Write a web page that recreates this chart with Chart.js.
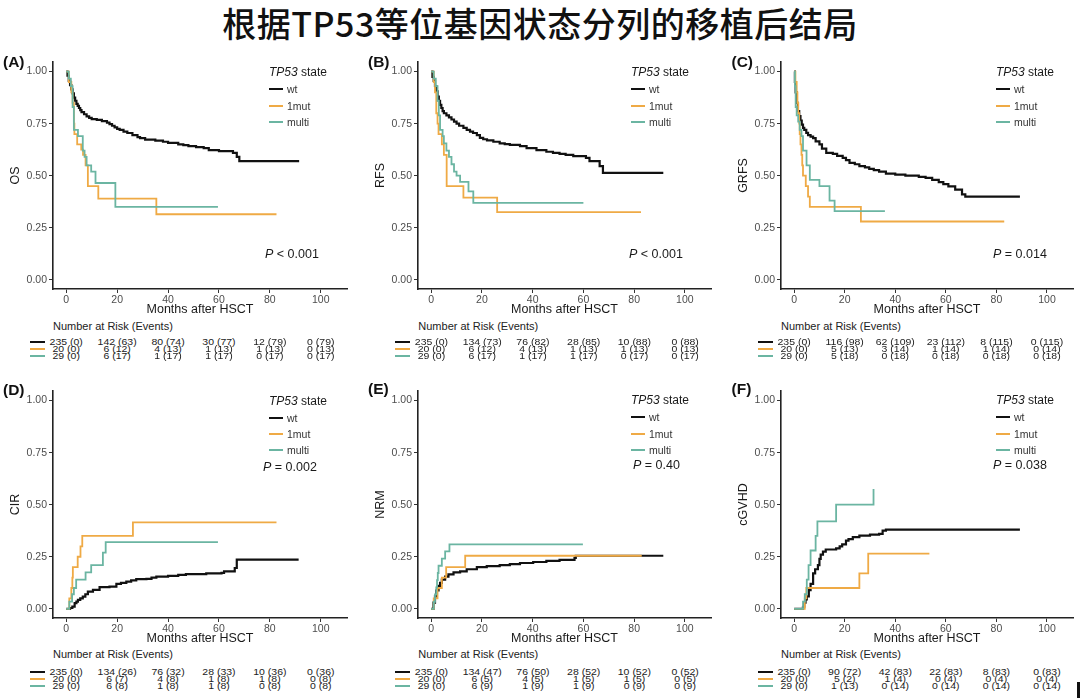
<!DOCTYPE html>
<html><head><meta charset="utf-8">
<script src="https://cdn.jsdelivr.net/npm/chart.js@4.4.1/dist/chart.umd.min.js"></script>
<style>
body{margin:0;width:1080px;height:698px;background:#fff;position:relative;overflow:hidden;font-family:"Liberation Sans",Arial,Helvetica,sans-serif;}
.t{position:absolute;white-space:nowrap;line-height:1.15;}
canvas{position:absolute;}
.sw{position:absolute;height:2px;}
#title{position:absolute;left:0;width:1080px;top:22px;transform:translateY(-50%);text-align:center;font-family:"Noto Sans CJK SC","Noto Sans CJK JP",sans-serif;font-size:34px;font-weight:500;color:#111;letter-spacing:0.5px;white-space:nowrap;}
</style></head>
<body>
<div id="title">根据TP53等位基因状态分列的移植后结局</div>
<script>
// ---------- axis ticks / labels ----------
const xTicks = [0,20,40,60,80,100];
const yTicks = [0,0.25,0.5,0.75,1];
const yTickLabels = ['0.00','0.25','0.50','0.75','1.00'];
const groups = ['wt','1mut','multi'];
const panelLetters = ['(A)','(B)','(C)','(D)','(E)','(F)'];
const yTitles = ['OS','RFS','GRFS','CIR','NRM','cGVHD'];
const pValues = [' < 0.001',' < 0.001',' = 0.014',' = 0.002',' = 0.40',' = 0.038'];

// ---------- (A) OS ----------
const osWtT = [0,0.5,1,1.5,2,2.5,3,3.5,4,4.5,5,5.5,6,7,8,9,10,12,14,16,17,18,19,20,21,22.5,24,26,28,29,31,35,38,40,44,46,48,51,54,56,60,65.5,67,68,91.5];
const osWtS = [1,0.98,0.955,0.935,0.915,0.895,0.875,0.86,0.845,0.835,0.825,0.815,0.805,0.795,0.785,0.778,0.772,0.768,0.762,0.755,0.748,0.74,0.732,0.725,0.72,0.712,0.705,0.695,0.685,0.68,0.673,0.668,0.663,0.658,0.65,0.647,0.642,0.637,0.632,0.623,0.618,0.61,0.59,0.57,0.57];
const osMutT = [0,1,2,2.5,3,3.2,4.3,5.9,6.6,7.6,8.5,12.6,35.4,82.6];
const osMutS = [1,0.95,0.9,0.85,0.75,0.7,0.65,0.625,0.6,0.55,0.45,0.39,0.315,0.315];
const osMulT = [0,1,1.8,2.5,3,4.6,6.5,7.2,8,9.8,11.5,19.3,59.6];
const osMulS = [1,0.966,0.93,0.83,0.72,0.69,0.62,0.59,0.55,0.52,0.465,0.35,0.35];

// ---------- (B) RFS ----------
const rfsWtT = [0,0.5,1,1.5,2,2.5,3,3.5,4,4.5,5,6,7,8,9,10,11,12.7,14,15.3,16.5,18,19.2,20.5,22,24.5,27,29,31,35,37.6,41.5,45.4,48,50.6,53,56,61,62.4,66.4,67.7,91.5];
const rfsWtS = [1,0.975,0.955,0.93,0.905,0.88,0.86,0.84,0.825,0.81,0.8,0.79,0.78,0.77,0.76,0.75,0.74,0.73,0.72,0.712,0.705,0.695,0.682,0.675,0.67,0.663,0.655,0.652,0.648,0.642,0.632,0.623,0.615,0.61,0.605,0.6,0.594,0.586,0.57,0.546,0.514,0.514];
const rfsMutT = [0,1,1.5,2,2.5,2.9,4.2,5,6.1,12.7,26,82.7];
const rfsMutS = [1,0.95,0.9,0.8,0.75,0.7,0.65,0.6,0.45,0.395,0.325,0.325];
const rfsMulT = [0,1,1.8,2.5,3,3.5,4.5,5,6,7,8,9,10,11.4,14.7,16.6,60];
const rfsMulS = [1,0.966,0.93,0.86,0.79,0.72,0.69,0.655,0.62,0.59,0.555,0.52,0.5,0.47,0.425,0.37,0.37];

// ---------- (C) GRFS ----------
const grfsWtT = [0,0.3,0.6,1,1.5,2,2.5,3,3.5,4,4.8,5.5,6.5,7.5,8.5,10,11,12.7,15.3,17,19.2,20.5,21.9,24,25.8,28,29.7,31.5,33.6,36.3,40,44,49.3,52,54.6,57.2,59,61,63.7,66.4,67.7,89.3];
const grfsWtS = [1,0.95,0.9,0.85,0.81,0.786,0.765,0.745,0.73,0.72,0.706,0.695,0.688,0.68,0.665,0.65,0.63,0.61,0.605,0.595,0.586,0.575,0.562,0.555,0.546,0.54,0.533,0.527,0.52,0.51,0.505,0.5,0.494,0.49,0.48,0.469,0.46,0.449,0.433,0.41,0.4,0.4];
const grfsMutT = [0,0.5,1,1.3,1.6,2,2.2,2.5,2.9,3.2,3.5,4.6,5.5,6.2,26.4,83.1];
const grfsMutS = [1,0.95,0.9,0.85,0.8,0.75,0.7,0.65,0.6,0.55,0.5,0.45,0.4,0.35,0.28,0.28];
const grfsMulT = [0,0.3,0.6,1,1.6,2.2,2.9,3.5,4.9,6.2,10,14,16,35.9];
const grfsMulS = [1,0.93,0.83,0.79,0.76,0.72,0.69,0.62,0.55,0.48,0.45,0.38,0.33,0.33];

// ---------- (D) CIR ----------
const cirWtT = [0,1.5,2.4,3.3,4,4.6,5.5,6.5,7.5,8.5,10.5,13.1,17,19.7,21.5,23.6,25.5,27.5,31.5,33.5,35.4,40,44,47,55,61,62,66.2,67,91.3];
const cirWtS = [0,0.004,0.011,0.027,0.035,0.043,0.05,0.059,0.07,0.083,0.091,0.104,0.107,0.12,0.125,0.131,0.137,0.143,0.144,0.15,0.155,0.158,0.163,0.167,0.17,0.173,0.18,0.196,0.236,0.236];
const cirMutT = [0,1.2,2,2.4,2.6,4.5,5.6,6.3,26.2,82.6];
const cirMutS = [0,0.05,0.1,0.15,0.2,0.25,0.3,0.35,0.415,0.415];
const cirMulT = [0,1.2,2.3,3,3.9,7.6,9.8,14.4,15.5,59.6];
const cirMulS = [0,0.035,0.07,0.1,0.14,0.175,0.21,0.27,0.32,0.32];

// ---------- (E) NRM ----------
const nrmWtT = [0,0.9,1.5,2,2.9,3.5,4.2,5.5,6.8,8.8,11.4,14,18,21.9,27,31,35,40.2,45.4,50.6,56.5,57,91.5];
const nrmWtS = [0,0.03,0.06,0.088,0.11,0.125,0.14,0.155,0.165,0.175,0.18,0.19,0.2,0.205,0.21,0.215,0.22,0.225,0.23,0.235,0.245,0.255,0.255];
const nrmMutT = [0,1,2.5,4.2,5.9,13.4,83];
const nrmMutS = [0,0.05,0.1,0.15,0.2,0.255,0.255];
const nrmMulT = [0,1,1.5,2,2.3,2.6,2.9,4.2,5.5,7.2,59.8];
const nrmMulS = [0,0.034,0.069,0.103,0.138,0.172,0.207,0.241,0.276,0.31,0.31];

// ---------- (F) cGVHD ----------
const cgWtT = [0,3.5,4,4.5,5,5.8,6.5,7.5,8.3,9.4,10,10.5,11.4,12.5,16.6,18,19,20.5,21.5,23.2,25.8,30,33.6,35,36.3,89.3];
const cgWtS = [0,0.01,0.03,0.045,0.06,0.09,0.12,0.17,0.19,0.21,0.24,0.26,0.275,0.285,0.29,0.3,0.31,0.328,0.335,0.344,0.352,0.356,0.36,0.376,0.38,0.38];
const cgMutT = [0,4.2,4.8,25.8,29.3,53.5];
const cgMutS = [0,0.05,0.1,0.17,0.265,0.265];
const cgMulT = [0,3.5,4.2,5,5.7,6.5,8.5,9.2,16.6,31.4];
const cgMulS = [0,0.035,0.07,0.14,0.21,0.28,0.35,0.42,0.5,0.575];

// ---------- Number at risk (events) ----------
const riskA = [['235 (0)','142 (63)','80 (74)','30 (77)','12 (79)','0 (79)'],['20 (0)','6 (12)','4 (13)','1 (13)','1 (13)','0 (13)'],['29 (0)','6 (17)','1 (17)','1 (17)','0 (17)','0 (17)']];
const riskB = [['235 (0)','134 (73)','76 (82)','28 (85)','10 (88)','0 (88)'],['20 (0)','6 (12)','4 (13)','1 (13)','1 (13)','0 (13)'],['29 (0)','6 (17)','1 (17)','1 (17)','0 (17)','0 (17)']];
const riskC = [['235 (0)','116 (98)','62 (109)','23 (112)','8 (115)','0 (115)'],['20 (0)','5 (13)','3 (14)','1 (14)','1 (14)','0 (14)'],['29 (0)','5 (18)','0 (18)','0 (18)','0 (18)','0 (18)']];
const riskD = [['235 (0)','134 (26)','76 (32)','28 (33)','10 (36)','0 (36)'],['20 (0)','6 (7)','4 (8)','1 (8)','1 (8)','0 (8)'],['29 (0)','6 (8)','1 (8)','1 (8)','0 (8)','0 (8)']];
const riskE = [['235 (0)','134 (47)','76 (50)','28 (52)','10 (52)','0 (52)'],['20 (0)','6 (5)','4 (5)','1 (5)','1 (5)','0 (5)'],['29 (0)','6 (9)','1 (9)','1 (9)','0 (9)','0 (9)']];
const riskF = [['235 (0)','90 (72)','42 (83)','22 (83)','8 (83)','0 (83)'],['20 (0)','5 (2)','1 (4)','0 (4)','0 (4)','0 (4)'],['29 (0)','1 (13)','0 (14)','0 (14)','0 (14)','0 (14)']];

// ---------- assembly (styles & positions) ----------
const panelSeries = [
  [[osWtT,osWtS],[osMutT,osMutS],[osMulT,osMulS]],
  [[rfsWtT,rfsWtS],[rfsMutT,rfsMutS],[rfsMulT,rfsMulS]],
  [[grfsWtT,grfsWtS],[grfsMutT,grfsMutS],[grfsMulT,grfsMulS]],
  [[cirWtT,cirWtS],[cirMutT,cirMutS],[cirMulT,cirMulS]],
  [[nrmWtT,nrmWtS],[nrmMutT,nrmMutS],[nrmMulT,nrmMulS]],
  [[cgWtT,cgWtS],[cgMutT,cgMutS],[cgMulT,cgMulS]]
];
const panelRisk = [riskA,riskB,riskC,riskD,riskE,riskF];
const colors = ['#111111','#EFAA45','#6BB5A2'];
const widths = [2.2,1.8,1.8];
const drawOrder = [3,2,1];

const layout = [
 {left:53,   top:62,  right:347,   legX:269, legY:73,  pX:265, pY:254, tblY:326,   rowY:342, lblX:3,     lblY:62},
 {left:418.3,top:62,  right:711.7, legX:631, legY:73,  pX:629, pY:254, tblY:326,   rowY:342, lblX:368,   lblY:62},
 {left:781,  top:62,  right:1073,  legX:996, legY:73,  pX:993, pY:254, tblY:326,   rowY:342, lblX:731.5, lblY:62},
 {left:53,   top:391, right:347,   legX:269, legY:401.5,pX:263,pY:467, tblY:654,   rowY:672, lblX:3,     lblY:390},
 {left:418.3,top:391, right:711.7, legX:631, legY:401, pX:633, pY:465, tblY:653.5, rowY:672, lblX:368,   lblY:388.5},
 {left:781,  top:391, right:1073,  legX:996, legY:401, pX:993, pY:465, tblY:654,   rowY:672, lblX:731.5, lblY:388.5}
];

function addText(parent, text, x, y, css, center){
  const d = document.createElement('div');
  d.className = 't';
  d.textContent = text;
  d.style.left = x + 'px';
  d.style.top = y + 'px';
  d.style.transform = (center ? 'translate(-50%,-50%)' : 'translateY(-50%)') + (css.sy ? ' scaleY(' + css.sy + ')' : '');
  for (const k in css) if (k !== 'sy') d.style[k] = css[k];
  parent.appendChild(d);
  return d;
}
function addSwatch(x, y, w, color, h){
  const s = document.createElement('div');
  s.className = 'sw';
  s.style.left = x + 'px'; s.style.top = (y - (h||2)/2) + 'px';
  s.style.width = w + 'px'; s.style.height = (h||2) + 'px';
  s.style.background = color;
  document.body.appendChild(s);
}

const Y_W = 53, PAD_T = 12, PAD_R = 8, X_H = 28, AREA_H = 227;

layout.forEach((L, p) => {
  const cl = L.left - Y_W, ct = L.top - PAD_T;
  const cw = Math.round(L.right - cl + PAD_R), ch = PAD_T + AREA_H + X_H;
  const cv = document.createElement('canvas');
  cv.width = cw; cv.height = ch;
  cv.style.left = cl + 'px'; cv.style.top = ct + 'px';
  cv.style.width = cw + 'px'; cv.style.height = ch + 'px';
  document.body.appendChild(cv);

  const datasets = panelSeries[p].map((s, g) => ({
    label: groups[g],
    data: s[0].map((t, i) => ({x: t, y: s[1][i]})),
    borderColor: colors[g],
    borderWidth: widths[g],
    pointRadius: 0,
    stepped: true,
    fill: false,
    order: drawOrder[g]
  }));

  const chart = new Chart(cv, {
    type: 'line',
    data: {datasets},
    options: {
      responsive: false, animation: false, devicePixelRatio: 1,
      layout: {padding: {top: PAD_T, right: PAD_R, left: 0, bottom: 0}},
      plugins: {legend: {display: false}, tooltip: {enabled: false}},
      scales: {
        x: {
          type: 'linear', min: -5.2, max: 110.3,
          afterBuildTicks: s => { s.ticks = xTicks.map(v => ({value: v})); },
          afterFit: s => { s.height = X_H; },
          ticks: {autoSkip: false, maxRotation: 0, padding: 1, color: '#4d4d4d', font: {family: 'Liberation Sans', size: 10.5}, callback: v => String(v)},
          grid: {drawOnChartArea: false, drawTicks: true, tickLength: 4, color: '#333', lineWidth: 1},
          border: {display: true, color: '#222', width: 1.6},
          title: {display: true, text: 'Months after HSCT', color: '#1a1a1a', font: {family: 'Liberation Sans', size: 12.5}, padding: {top: 0, bottom: 0}}
        },
        y: {
          type: 'linear', min: -0.044, max: 1.046,
          afterBuildTicks: s => { s.ticks = yTicks.map(v => ({value: v})); },
          afterFit: s => { s.width = Y_W; },
          ticks: {autoSkip: false, padding: 2, color: '#4d4d4d', font: {family: 'Liberation Sans', size: 10.5}, callback: (v, i) => yTickLabels[i]},
          grid: {drawOnChartArea: false, drawTicks: true, tickLength: 4, color: '#333', lineWidth: 1},
          border: {display: true, color: '#222', width: 1.6},
          title: {display: true, text: yTitles[p], color: '#1a1a1a', font: {family: 'Liberation Sans', size: 12.5}, padding: {top: 8.5, bottom: 0}}
        }
      }
    }
  });

  // panel letter
  addText(document.body, panelLetters[p], L.lblX, L.lblY, {fontSize: '15.5px', fontWeight: 'bold', color: '#111'});

  // legend
  const lt = addText(document.body, '', L.legX, L.legY, {fontSize: '12px', color: '#1a1a1a'});
  const it = document.createElement('i'); it.textContent = 'TP53';
  lt.appendChild(it); lt.appendChild(document.createTextNode(' state'));
  groups.forEach((g, i) => {
    const yy = L.legY + 16.3 * (i + 1);
    addSwatch(L.legX, yy, 14, colors[i], i === 0 ? 2.4 : 2);
    addText(document.body, g, L.legX + 18, yy, {fontSize: '10.5px', color: '#333'});
  });

  // p value
  const pv = addText(document.body, '', L.pX, L.pY, {fontSize: '12.5px', color: '#1a1a1a'});
  const pi = document.createElement('i'); pi.textContent = 'P';
  pv.appendChild(pi); pv.appendChild(document.createTextNode(pValues[p]));

  // number at risk table
  addText(document.body, 'Number at Risk (Events)', L.left, L.tblY, {fontSize: '11px', color: '#222'});
  const xs = chart.scales.x;
  panelRisk[p].forEach((row, r) => {
    const yy = L.rowY + 7 * r;
    addSwatch(L.left - 23, yy, 15, colors[r], r === 0 ? 2.4 : 2);
    row.forEach((txt, c) => {
      const px = cl + xs.getPixelForValue(xTicks[c]);
      addText(document.body, txt, px, yy, {fontSize: '10.5px', color: '#222', sy: 0.85}, true);
    });
  });
});

// small edge mark at bottom right of the figure
addSwatch(1077, 690, 2.5, '#111', 16);
</script>
</body></html>
